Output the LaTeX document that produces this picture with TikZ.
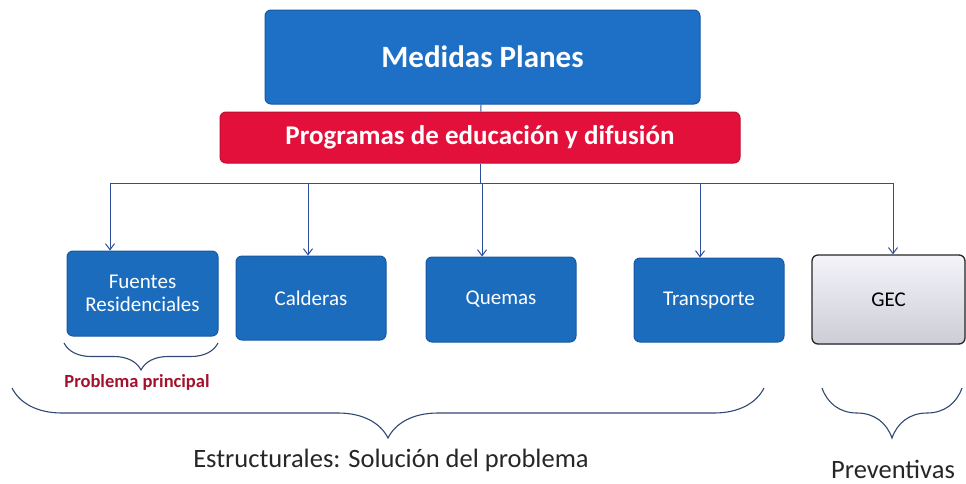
\documentclass[tikz,border=0pt]{standalone}
\usepackage{fontspec}
\setmainfont{Carlito}
\usetikzlibrary{arrows.meta,decorations.pathreplacing,positioning}
\begin{document}
\begin{tikzpicture}[x=1pt,y=-1pt,
    medbox/.style={shape=rectangle,draw=mp_blueD,line width=1pt,fill=mp_blue,rounded corners=6pt,text=white,inner sep=0pt},
    grpbox/.style={shape=rectangle,draw=mp_blueD,line width=1pt,fill=mp_blueB,rounded corners=6pt,text=white,inner sep=0pt,align=center,font=\fontsize{21}{23}\selectfont},
    link/.style={draw=mp_line,line width=1pt},
    arr/.style={link,-{Straight Barb[length=6pt,width=9pt]}},
    brc/.style={draw=mp_brace,line width=1.1pt,decorate,decoration={brace,mirror,amplitude=#1}},
    grplabel/.style={text=black!85,font=\fontsize{26.5}{30}\selectfont}]
    \definecolor{mp_blue}{RGB}{30,112,198}
    \definecolor{mp_blueB}{RGB}{28,108,190}
    \definecolor{mp_blueD}{RGB}{24,88,160}
    \definecolor{mp_red}{RGB}{226,16,58}
    \definecolor{mp_redD}{RGB}{190,14,48}
    \definecolor{mp_line}{RGB}{45,80,158}
    \definecolor{mp_brace}{RGB}{48,72,115}
    \definecolor{mp_txtred}{RGB}{162,18,45}
    \definecolor{mp_gecT}{RGB}{244,244,250}
    \definecolor{mp_gecB}{RGB}{205,205,215}
    \useasboundingbox (0,0) rectangle (966,483);
    \node[medbox,minimum width=435pt,minimum height=94pt,font=\bfseries\fontsize{31}{36}\selectfont] (med) at (482.5,57) {Medidas Planes};
    \node[medbox,draw=mp_redD,fill=mp_red,minimum width=520pt,minimum height=51pt,font=\bfseries\fontsize{27}{31}\selectfont] (prog) at (480,137.5) {Programas de educación y difusión};
    \node[grpbox,minimum width=151pt,minimum height=85pt] (fue) at (142.5,293.5) {Fuentes\\Residenciales};
    \node[grpbox,minimum width=150pt,minimum height=84pt] (cal) at (311,298) {Calderas};
    \node[grpbox,minimum width=150pt,minimum height=85pt] (que) at (501,299.5) {Quemas};
    \node[grpbox,minimum width=150pt,minimum height=84pt] (tra) at (709,300) {Transporte};
    \node[grpbox,draw=black!85,line width=1.3pt,top color=mp_gecT,bottom color=mp_gecB,text=black,minimum width=153pt,minimum height=89pt] (gec) at (888.5,299.5) {GEC};
    \coordinate (bus) at (482,183);
    \draw[link] (med) -- (prog);
    \draw[link] (prog) -- (prog |- bus);
    \draw[link] ([xshift=-32.5pt]fue.north |- bus) -- ([xshift=4.5pt]gec.north |- bus);
    \foreach \b/\s in {fue/-32.5,cal/-3,que/-19,tra/-9,gec/4.5}
        \draw[arr] ([xshift=\s pt]\b.north |- bus) -- ([xshift=\s pt]\b.north);
    \draw[brc=27pt] (64,343) -- (218,343);
    \node[text=mp_txtred,font=\bfseries\fontsize{18.5}{22}\selectfont] (pp) at (137,382) {Problema principal};
    \draw[brc=50pt] (12,388) -- (764,388);
    \draw[brc=50pt] (822,388) -- (962,388);
    \node[grplabel] (est) at (391,460) {Estructurales: Solución del problema};
    \node[grplabel] (prev) at (893,469) {Preventivas};
\end{tikzpicture}
\end{document}
